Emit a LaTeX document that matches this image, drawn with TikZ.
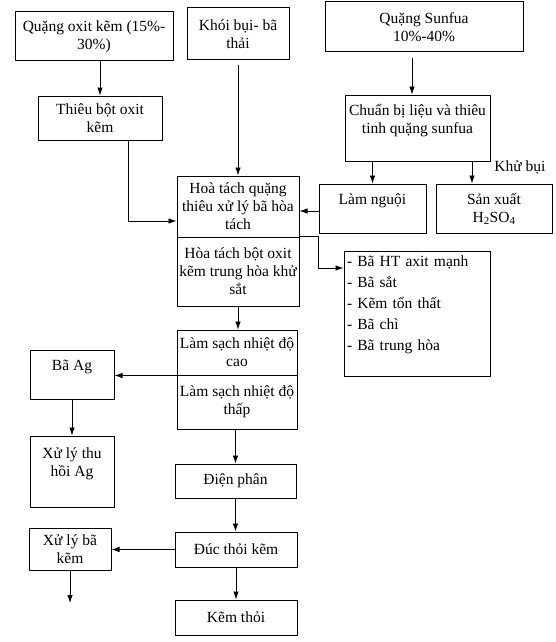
\documentclass[tikz,border=0pt]{standalone}
\usepackage{fontspec}
\setmainfont{Liberation Serif}
\usetikzlibrary{arrows.meta}
\begin{document}
\begin{tikzpicture}[x=1pt, y=-1pt,
    box/.style  = {draw, line width=1pt, align=center, inner xsep=2pt, inner ysep=2pt,
                   font=\fontsize{15.5}{18}\selectfont},
    arr/.style  = {-{Latex[length=8pt,width=5.5pt]}, line width=0.8pt}]
  \useasboundingbox (0,0) rectangle (555,642);

  \node[box, minimum width=158, minimum height=49] at ( 94,  36.5) (1)  {Quặng oxit kẽm (15\%-\\30\%)};
  \node[box, minimum width=102, minimum height=52] at (238,  34  ) (2)  {Khói bụi- bã\\thải};
  \node[box, minimum width=198, minimum height=50] at (424,  27  ) (3)  {Quặng Sunfua\\10\%-40\%};
  \node[box, minimum width=124, minimum height=44] at (100, 118  ) (4)  {Thiêu bột oxit\\kẽm};
  \node[box, minimum width=145, minimum height=66] at (417.5,128 ) (5)  {Chuẩn bị liệu và thiêu\\tinh quặng sunfua\\~};
  \node[box, minimum width=107, minimum height=49] at (372.5,208.5) (6) {Làm nguội\\~};
  \node[box, minimum width=116, minimum height=49] at (494, 208.5) (7)  {Sản xuất\\H\textsubscript{2}SO\textsubscript{4}};
  \node[font=\fontsize{15.5}{18}\selectfont]        at (520, 167  ) (8)  {Khử bụi};
  \node[box, minimum width=122, minimum height=61] at (238, 206.5) (9)  {Hoà tách quặng\\thiêu xử lý bã hòa\\tách};
  \node[box, minimum width=122, minimum height=69] at (238, 271.5) (10) {Hòa tách bột oxit\\kẽm trung hòa khử\\sắt};
  \node[box, align=left, inner xsep=3pt, text width=140, minimum width=146, minimum height=125]
                                                   at (417, 313.5) (11) {- Bã HT axit mạnh\\[3pt]- Bã sắt\\[3pt]- Kẽm tổn thất\\[3pt]- Bã chì\\[3pt]- Bã trung hòa\\[3pt]~};
  \node[box, minimum width=120, minimum height=45] at (237, 352.5) (12) {Làm sạch nhiệt độ\\cao};
  \node[box, minimum width=120, minimum height=54] at (237, 402  ) (13) {Làm sạch nhiệt độ\\thấp};
  \node[box, minimum width=84,  minimum height=49] at ( 72, 374.5) (14) {Bã Ag\\~};
  \node[box, minimum width=84,  minimum height=71] at ( 72, 471.5) (15) {Xử lý thu\\hồi Ag\\~};
  \node[box, minimum width=121, minimum height=34] at (235.5,481 ) (16) {Điện phân};
  \node[box, minimum width=122, minimum height=35] at (236, 549.5) (17) {Đúc thỏi kẽm};
  \node[box, minimum width=82,  minimum height=42] at ( 70, 549  ) (18) {Xử lý bã\\kẽm};
  \node[box, minimum width=122, minimum height=35] at (236, 617.5) (19) {Kẽm thỏi};
  \coordinate (20) at (70, 603);

  \draw[arr] (1.south -| 4.north) -- (4.north);
  \draw[arr, shorten <=5pt] (2.south) -- (9.north);
  \draw[arr, shorten <=6pt] ([xshift=-5.5pt]5.north |- 3.south) -- ([xshift=-5.5pt]5.north);
  \draw[arr] (6.north |- 5.south) -- (6.north);
  \draw[arr] ([xshift=-22pt]7.north |- 5.south) -- ([xshift=-22pt]7.north);
  \draw[arr] ([yshift=-2.5pt]6.west) -- ([yshift=-2.5pt]6.west -| 9.east);
  \draw[arr] ([xshift=28pt]4.south) |- ([yshift=-14.5pt]9.west);
  \draw[arr] (10.north east) -- ++(19,0) |- ([yshift=45.5pt]11.west);
  \draw[arr] (10.south) -- (10.south |- 12.north);
  \draw[arr] (12.south west) -- (12.south west -| 14.east);
  \draw[arr] (14) -- (15);
  \draw[arr] (13.south -| 16.north) -- (16.north);
  \draw[arr] (16.south) -- (16.south |- 17.north);
  \draw[arr] (17.west) -- (17.west -| 18.east);
  \draw[arr] (18.south) -- (20);
  \draw[arr] (17.south) -- (19.north);
\end{tikzpicture}
\end{document}
